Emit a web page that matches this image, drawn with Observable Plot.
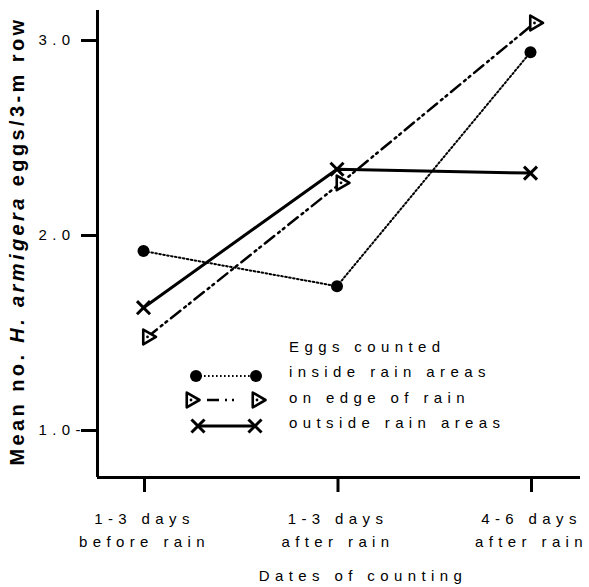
<!DOCTYPE html>
<html>
<head>
<meta charset="utf-8">
<script src="https://cdn.jsdelivr.net/npm/d3@7"></script>
<script src="https://cdn.jsdelivr.net/npm/@observablehq/plot@0.6"></script>
<style>
  html, body { margin: 0; padding: 0; background: #fff; }
  #chart { position: relative; width: 589px; height: 587px; }
  #chart svg text { letter-spacing: 5.4px; }
</style>
</head>
<body>
<div id="chart"></div>
<script>
// Counting dates (x categories, two-line tick labels)
const dates = ["1-3 days\nbefore rain", "1-3 days\nafter rain", "4-6 days\nafter rain"];
const xTicks = [0, 1, 2];

// Mean eggs per 3-m row for each counting date
const insideRain = [1.92, 1.74, 2.94];
const edgeOfRain = [1.48, 2.27, 3.09];
const outsideRain = [1.63, 2.34, 2.32];
const seriesNames = ["inside rain areas", "on edge of rain", "outside rain areas"];

// Value axis
const yTicks = [1, 2, 3];
const yTickLabels = ["1.0-", "2.0", "3.0"];
const yDomain = [0.759, 3.154];
const xDomain = [-0.2377, 2.2584];

const legendHeading = "Eggs counted";
const xTitle = "Dates of counting";
const yTitle = "Mean no. H. armigera eggs/3-m row";

// Right-pointing open triangle used for the edge-of-rain series
const triangleRight = {
  draw(ctx, size) {
    const R = Math.sqrt(size / Math.PI);
    const h = R * Math.sqrt(3) / 2;
    ctx.moveTo(R, 0);
    ctx.lineTo(-R / 2, h);
    ctx.lineTo(-R / 2, -h);
    ctx.closePath();
  }
};

const toRows = (values, name) => values.map((v, i) => ({i, v, name}));
const inside = toRows(insideRain, seriesNames[0]);
const edge = toRows(edgeOfRain, seriesNames[1]);
const outside = toRows(outsideRain, seriesNames[2]);

const dotted = {stroke: "#000", strokeWidth: 2, strokeDasharray: "1.6,2.4"};
const dashDot = {stroke: "#000", strokeWidth: 2.5, strokeDasharray: "12,5,2,4,2,5"};
const solid = {stroke: "#000", strokeWidth: 3};
const triR = 8.5, edgeDx = 4;

const chart = Plot.plot({
  width: 589,
  height: 587,
  marginLeft: 97,
  marginRight: 9,
  marginTop: 10,
  marginBottom: 110,
  style: {fontFamily: '"Liberation Sans", Arial, sans-serif', fontSize: "15px", background: "#fff", color: "#000"},
  x: {domain: xDomain},
  y: {domain: yDomain},
  marks: [
    Plot.ruleX([xDomain[0]], {stroke: "#000", strokeWidth: 3}),
    Plot.ruleY([yDomain[0]], {stroke: "#000", strokeWidth: 3}),
    Plot.axisY({
      ticks: yTicks,
      tickFormat: d => yTickLabels[yTicks.indexOf(d)],
      tickSize: 16, tickPadding: 43, textAnchor: "start",
      strokeWidth: 3, fontSize: 15, label: null
    }),
    Plot.axisX({
      ticks: xTicks,
      tickFormat: i => dates[i],
      tickSize: 15, tickPadding: 15, lineHeight: 1.53, dx: 1,
      strokeWidth: 3, fontSize: 15, label: null
    }),
    Plot.text([yTitle], {text: d => d, frameAnchor: "left", textAnchor: "middle", lineAnchor: "middle", rotate: -90, dx: -80, dy: -3, fontSize: 20, fontWeight: "bold"}),
    Plot.text([xTitle], {text: d => d, frameAnchor: "bottom", dx: 24, dy: 103, fontSize: 15}),

    Plot.line(inside, {x: "i", y: "v", ...dotted}),
    Plot.line(edge, {x: "i", y: "v", dx: edgeDx, ...dashDot}),
    Plot.line(outside, {x: "i", y: "v", ...solid}),

    Plot.dot(inside, {x: "i", y: "v", r: 6, fill: "#000"}),
    Plot.dot(edge, {x: "i", y: "v", dx: edgeDx, r: triR, symbol: triangleRight, fill: "#fff", stroke: "#000", strokeWidth: 2.6, strokeLinejoin: "round"}),
    Plot.dot(edge, {x: "i", y: "v", dx: edgeDx, r: 1.4, fill: "#000"}),
    Plot.dot(outside, {x: "i", y: "v", r: 6, symbol: "times", stroke: "#000", strokeWidth: 3})
  ]
});

document.getElementById("chart").appendChild(chart);

const svg = d3.select(chart);

// Bold rotated value-axis title with the italic species name
svg.selectAll("text").filter(function () { return this.textContent === yTitle; })
  .each(function () {
    const t = d3.select(this).style("letter-spacing", "3.4px").text(null);
    t.append("tspan").text("Mean no. ");
    t.append("tspan").attr("font-style", "italic").text("H. armigera");
    t.append("tspan").text(" eggs/3-m row");
  });

// Legend inside the plot area
const legend = svg.append("g").attr("font-size", 15).attr("fill", "#000").attr("text-anchor", "start");
legend.append("text").attr("x", 289).attr("y", 351.5).text(legendHeading);

const legendRows = [
  {name: seriesNames[0], y: 376, x0: 196, x1: 256, line: dotted, marker: "circle"},
  {name: seriesNames[1], y: 400, x0: 191, x1: 257, line: dashDot, marker: "triangle"},
  {name: seriesNames[2], y: 426, x0: 198, x1: 255, line: solid, marker: "times"}
];
const textBaselines = [377, 402.5, 428];

legendRows.forEach((row, k) => {
  const g = legend.append("g");
  g.append("line")
    .attr("x1", row.x0).attr("x2", row.x1).attr("y1", row.y).attr("y2", row.y)
    .attr("stroke", row.line.stroke).attr("stroke-width", row.line.strokeWidth)
    .attr("stroke-dasharray", row.marker === "triangle" ? "0,16,12,6,2,5,2,40" : row.line.strokeDasharray || null);
  [row.x0, row.x1].forEach(cx => {
    if (row.marker === "circle") {
      g.append("circle").attr("cx", cx).attr("cy", row.y).attr("r", 6).attr("fill", "#000");
    } else if (row.marker === "triangle") {
      g.append("path").attr("transform", `translate(${cx},${row.y})`)
        .attr("d", d3.symbol(triangleRight, Math.PI * triR * triR)())
        .attr("fill", "#fff").attr("stroke", "#000").attr("stroke-width", 2.6).attr("stroke-linejoin", "round");
      g.append("circle").attr("cx", cx).attr("cy", row.y).attr("r", 1.4).attr("fill", "#000");
    } else {
      g.append("path").attr("transform", `translate(${cx},${row.y})`)
        .attr("d", d3.symbol(d3.symbolTimes, Math.PI * 36)())
        .attr("fill", "none").attr("stroke", "#000").attr("stroke-width", 3);
    }
  });
  legend.append("text").attr("x", 289).attr("y", textBaselines[k]).text(row.name);
});
</script>
</body>
</html>
